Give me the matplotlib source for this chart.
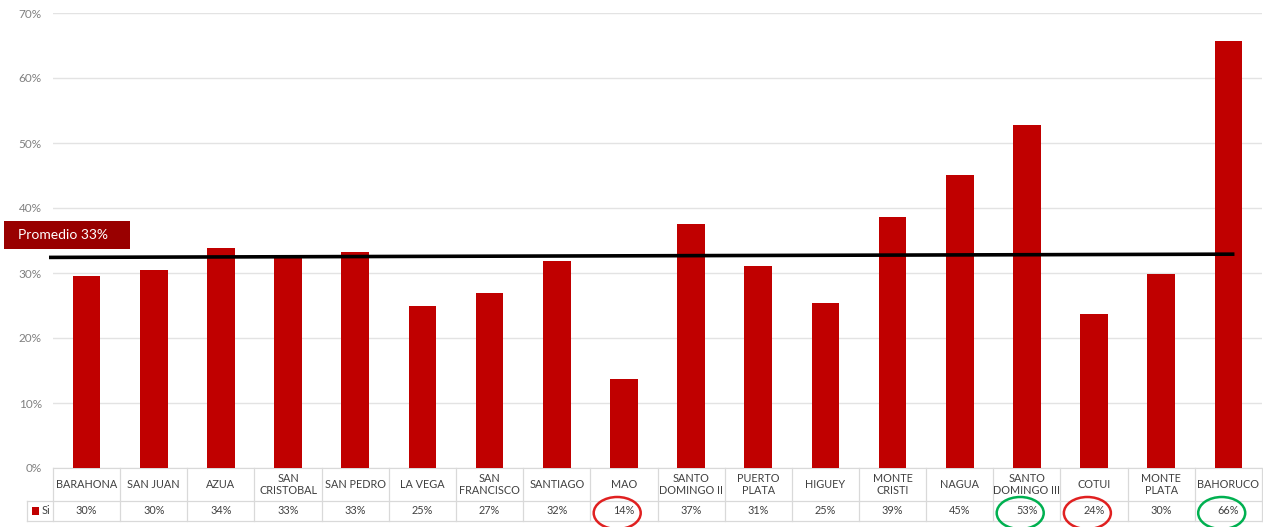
import matplotlib
matplotlib.use("Agg")
import matplotlib.pyplot as plt
import matplotlib.transforms as mtransforms
from matplotlib.patches import Ellipse, Rectangle
import numpy as np

categories = ["BARAHONA", "SAN JUAN", "AZUA", "SAN\nCRISTOBAL", "SAN PEDRO", "LA VEGA",
              "SAN\nFRANCISCO", "SANTIAGO", "MAO", "SANTO\nDOMINGO II", "PUERTO\nPLATA",
              "HIGUEY", "MONTE\nCRISTI", "NAGUA", "SANTO\nDOMINGO III", "COTUI",
              "MONTE\nPLATA", "BAHORUCO"]
values = [29.6, 30.4, 33.8, 32.7, 33.2, 24.9, 26.9, 31.8, 13.7, 37.5, 31.1, 25.4,
          38.6, 45.1, 52.8, 23.7, 29.8, 65.7]
labels = ["30%", "30%", "34%", "33%", "33%", "25%", "27%", "32%", "14%", "37%", "31%",
          "25%", "39%", "45%", "53%", "24%", "30%", "66%"]
series_name = "Si"
average_label = "Promedio 33%"
avg_start, avg_end = 32.4, 32.9
red_circled = ["MAO", "COTUI"]
green_circled = ["SANTO\nDOMINGO III", "BAHORUCO"]
yticks = [0, 10, 20, 30, 40, 50, 60, 70]

plt.rcParams['font.family'] = ['Lato', 'DejaVu Sans']

W, H = 1263, 527
fig = plt.figure(figsize=(W / 100, H / 100), dpi=100)
ax = fig.add_axes([53 / W, 59 / H, (1262 - 53) / W, (514 - 59) / H])
colw = (1262 - 53) / 18.0

x = np.arange(len(categories))
bar_color = "#c00000"
ax.bar(x, values, width=0.41, color=bar_color, zorder=3)
ax.set_xlim(-0.5, len(categories) - 0.5)
ax.set_ylim(0, 70)
ax.set_yticks(yticks)
ax.set_yticklabels([f"{t}%" for t in yticks], color="#808080", fontsize=8.5)
ax.tick_params(axis="y", length=0, pad=8)
ax.set_xticks([])
ax.grid(axis="y", color="#e3e3e3", linewidth=1, zorder=0)
for s in ["top", "right", "left"]:
    ax.spines[s].set_visible(False)
ax.spines["bottom"].set_color("#d9d9d9")

# average line
ax.plot([-0.5 - 4 / colw, len(categories) - 0.91], [avg_start, avg_end], color="black",
        linewidth=2.6, zorder=5, clip_on=False, solid_capstyle="butt")

# Promedio box
fig.patches.append(Rectangle((4 / W, (527 - 249) / H), 126 / W, 28 / H,
                             transform=fig.transFigure, facecolor="#990000",
                             edgecolor="none", zorder=6))
fig.text(18 / W, (527 - 235) / H, average_label, color="white", fontsize=10,
         va="center", ha="left", zorder=7)

# table
trans = mtransforms.blended_transform_factory(ax.transData, ax.transAxes)
def ay(py):
    return (527 - py - 59) / (514 - 59)

grid_c = "#d9d9d9"
y_top, y_mid, y_bot = ay(468), ay(501), ay(521)
n = len(categories)
for i in range(n + 1):
    ax.plot([i - 0.5, i - 0.5], [y_top, y_bot], transform=trans, color=grid_c,
            linewidth=0.9, clip_on=False)
left_x = -0.5 - 26 / colw
ax.plot([left_x, n - 0.5], [y_mid, y_mid], transform=trans, color=grid_c, lw=0.9, clip_on=False)
ax.plot([left_x, n - 0.5], [y_bot, y_bot], transform=trans, color=grid_c, lw=0.9, clip_on=False)
ax.plot([left_x, left_x], [y_mid, y_bot], transform=trans, color=grid_c, lw=0.9, clip_on=False)

for i, (c, l) in enumerate(zip(categories, labels)):
    ax.text(i, (y_top + y_mid) / 2, c, transform=trans, ha="center", va="center",
            fontsize=7.8, color="#404040", linespacing=1.05, clip_on=False)
    ax.text(i, (y_mid + y_bot) / 2, l, transform=trans, ha="center", va="center",
            fontsize=7.8, color="#404040", clip_on=False)

# legend cell
ax.add_patch(Rectangle((left_x + 5 / colw, (y_mid + y_bot) / 2 - 0.0085), 7 / colw, 0.017,
                       transform=trans, facecolor=bar_color, edgecolor="none", clip_on=False))
ax.text(left_x + 15 / colw, (y_mid + y_bot) / 2, series_name, transform=trans, ha="left",
        va="center", fontsize=7.8, color="#404040", clip_on=False)

# circles
for name in red_circled + green_circled:
    i = categories.index(name)
    col = "#e02020" if name in red_circled else "#00b050"
    e = Ellipse((i - 0.1, ay(513)), 0.7, 32 / 455, transform=trans, fill=False,
                edgecolor=col, linewidth=1.8, clip_on=False, zorder=8)
    ax.add_patch(e)

fig.savefig("out.png", dpi=100, facecolor="white")
